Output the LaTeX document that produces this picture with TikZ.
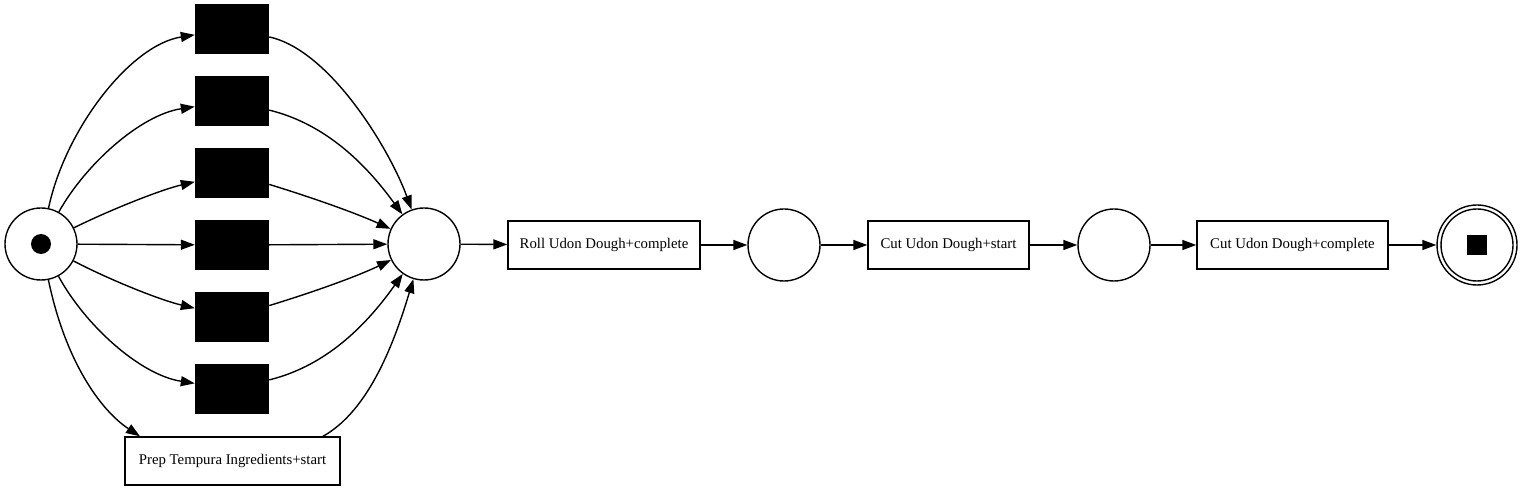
\documentclass[tikz,border=0pt]{standalone}
\usepackage{fontspec}
\setmainfont{Liberation Serif}
\usetikzlibrary{arrows.meta}
\begin{document}
\begin{tikzpicture}[x=0.5pt,y=-0.5pt,
  every path/.style={line width=0.7pt},
  arc/.style={draw,-{Triangle[length=7pt,width=5pt]}},
  place/.style={circle,draw,minimum size=36pt,inner sep=0pt},
  silent/.style={rectangle,fill=black,draw=black,minimum width=36.5pt,minimum height=24pt,inner sep=0pt},
  trans/.style={rectangle,draw,minimum height=24pt,inner sep=0pt,font=\fontsize{7.4pt}{9pt}\selectfont}]
\useasboundingbox (0,0) rectangle (1524,491);
% places
\node[place] (s) at (41,244) {};
\fill (41,244) circle (5pt);
\node[place] (p1) at (424,244) {};
\node[place] (p2) at (784,245) {};
\node[place] (p3) at (1114,245) {};
\node[circle,draw,minimum size=40pt,inner sep=0pt] (e) at (1477,245) {};
\node[circle,draw,minimum size=36pt,inner sep=0pt] (ei) at (1477,245) {};
\node[rectangle,fill=black,minimum size=10pt,inner sep=0pt] (esq) at (1477,245) {};
% silent transitions
\node[silent] (t1) at (232,29) {};
\node[silent] (t2) at (232,101) {};
\node[silent] (t3) at (232,173) {};
\node[silent] (t4) at (232,245) {};
\node[silent] (t5) at (232,317) {};
\node[silent] (t6) at (232,389) {};
% labelled transitions
\node[trans,minimum width=107.5pt] (prep) at (232.5,461) {Prep Tempura Ingredients+start};
\node[trans,minimum width=96pt] (roll) at (604,245) {Roll Udon Dough+complete};
\node[trans,minimum width=80.5pt] (cs) at (948.5,245) {Cut Udon Dough+start};
\node[trans,minimum width=95.5pt] (cc) at (1292.5,245) {Cut Udon Dough+complete};
% arcs from start
\draw[arc] (s) .. controls (65,130) and (130,45) .. (t1);
\draw[arc] (s) .. controls (85,165) and (140,115) .. (t2);
\draw[arc] (s) .. controls (110,210) and (160,190) .. (t3);
\draw[arc] (s) -- (t4);
\draw[arc] (s) .. controls (110,280) and (160,300) .. (t5);
\draw[arc] (s) .. controls (85,325) and (140,375) .. (t6);
\draw[arc] (s) .. controls (65,360) and (100,410) .. (prep.north west -| 140,437);
% arcs into p1
\draw[arc] (t1) .. controls (330,50) and (390,150) .. (p1);
\draw[arc] (t2) .. controls (330,125) and (370,170) .. (p1);
\draw[arc] (t3) .. controls (320,200) and (360,215) .. (p1);
\draw[arc] (t4) -- (p1);
\draw[arc] (t5) .. controls (320,290) and (360,275) .. (p1);
\draw[arc] (t6) .. controls (330,365) and (370,320) .. (p1);
\draw[arc] (prep.north east -| 323,437) .. controls (370,410) and (395,340) .. (p1);
% chain
\draw[arc] (p1) -- (roll);
\draw[arc] (roll) -- (p2);
\draw[arc] (p2) -- (cs);
\draw[arc] (cs) -- (p3);
\draw[arc] (p3) -- (cc);
\draw[arc] (cc) -- (e);
\end{tikzpicture}
\end{document}
